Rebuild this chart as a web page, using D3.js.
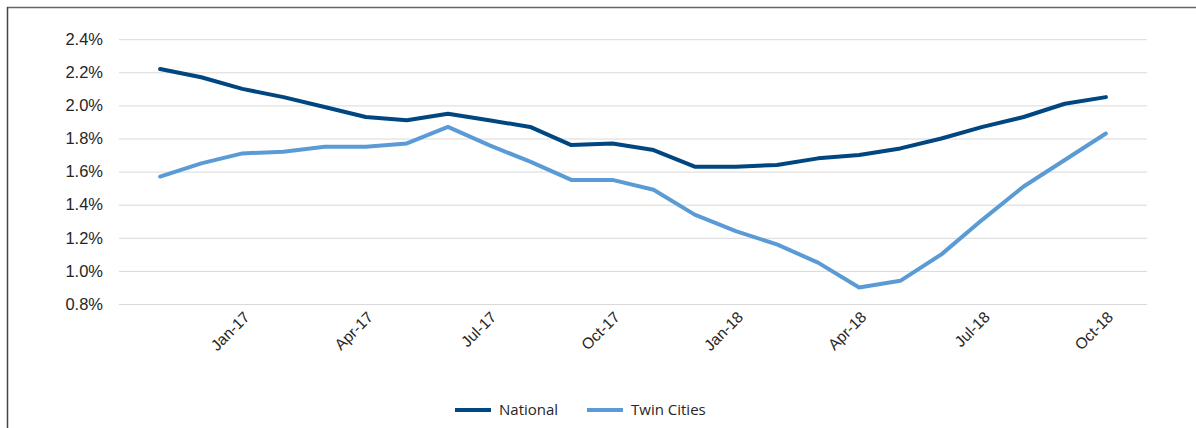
<!DOCTYPE html>
<html>
<head>
<meta charset="utf-8">
<script src="https://cdn.jsdelivr.net/npm/d3@7/dist/d3.min.js"></script>
<style>
  html, body { margin: 0; padding: 0; background: #fff; }
  svg { display: block; font-family: "Open Sans", "Noto Sans", sans-serif; }
</style>
</head>
<body>
<svg id="chart" width="1196" height="428"></svg>
<script>
// Monthly rates, Nov-16 through Oct-18 (percent)
const months = ["Nov-16","Dec-16","Jan-17","Feb-17","Mar-17","Apr-17","May-17","Jun-17",
  "Jul-17","Aug-17","Sep-17","Oct-17","Nov-17","Dec-17","Jan-18","Feb-18","Mar-18",
  "Apr-18","May-18","Jun-18","Jul-18","Aug-18","Sep-18","Oct-18"];
const national = [2.22,2.17,2.10,2.05,1.99,1.93,1.91,1.95,1.91,1.87,1.76,1.77,1.73,
  1.63,1.63,1.64,1.68,1.70,1.74,1.80,1.87,1.93,2.01,2.05];
const twinCities = [1.57,1.65,1.71,1.72,1.75,1.75,1.77,1.87,1.76,1.66,1.55,1.55,1.49,
  1.34,1.24,1.16,1.05,0.90,0.94,1.10,1.31,1.51,1.67,1.83];
const xTickLabels = ["Jan-17","Apr-17","Jul-17","Oct-17","Jan-18","Apr-18","Jul-18","Oct-18"];
const yTicks = [0.8,1.0,1.2,1.4,1.6,1.8,2.0,2.2,2.4];
const seriesNames = ["National","Twin Cities"];
const seriesColors = ["#004680","#5b9bd5"];

const svg = d3.select("#chart");

// frame: top and left rules
svg.append("line").attr("x1", 7).attr("x2", 1196).attr("y1", 7.5).attr("y2", 7.5)
  .attr("stroke", "#666").attr("stroke-width", 1.5);
svg.append("line").attr("x1", 7.5).attr("x2", 7.5).attr("y1", 7).attr("y2", 428)
  .attr("stroke", "#444").attr("stroke-width", 1.5);

const plotLeft = 119, plotRight = 1147;
const x = d3.scaleLinear().domain([-1, months.length]).range([plotLeft, plotRight]);
const y = d3.scaleLinear().domain([0.8, 2.4]).range([304, 39.2]);

// horizontal gridlines + y labels
const yAxis = d3.axisLeft(y).tickValues(yTicks)
  .tickSize(-(plotRight - plotLeft))
  .tickPadding(16)
  .tickFormat(d => d.toFixed(1) + "%");
const gy = svg.append("g").attr("transform", `translate(${plotLeft},0)`).call(yAxis);
gy.select(".domain").remove();
gy.selectAll(".tick line").attr("stroke", "#d9d9d9").attr("stroke-width", 1);
gy.selectAll(".tick text").attr("fill", "#262626").attr("font-size", 16.5);

// x labels, rotated
const tickIdx = xTickLabels.map(l => months.indexOf(l));
const xAxis = d3.axisBottom(x).tickValues(tickIdx).tickSize(0)
  .tickFormat(i => months[i]);
const gx = svg.append("g").attr("transform", "translate(0,316)").call(xAxis);
gx.select(".domain").remove();
gx.selectAll(".tick text")
  .attr("fill", "#262626").attr("font-size", 15.5)
  .attr("text-anchor", "end").attr("dy", "0.71em").attr("y", 0)
  .attr("transform", "rotate(-45) translate(4,-4)");

// lines
const line = d3.line().x((d, i) => x(i)).y(d => y(d));
[national, twinCities].forEach((s, k) => {
  svg.append("path").datum(s)
    .attr("fill", "none")
    .attr("stroke", seriesColors[k])
    .attr("stroke-width", 4)
    .attr("stroke-linejoin", "round")
    .attr("stroke-linecap", "round")
    .attr("d", line);
});

// legend
const legendItems = [{x: 455}, {x: 587}];
legendItems.forEach((it, k) => {
  const g = svg.append("g").attr("transform", `translate(${it.x},410)`);
  g.append("line").attr("x1", 0).attr("x2", 36).attr("y1", 0).attr("y2", 0)
    .attr("stroke", seriesColors[k]).attr("stroke-width", 4);
  g.append("text").attr("x", 44).attr("y", 0).attr("dy", "0.35em")
    .attr("fill", "#262626").attr("font-size", 15).text(seriesNames[k]);
});
</script>
</body>
</html>
